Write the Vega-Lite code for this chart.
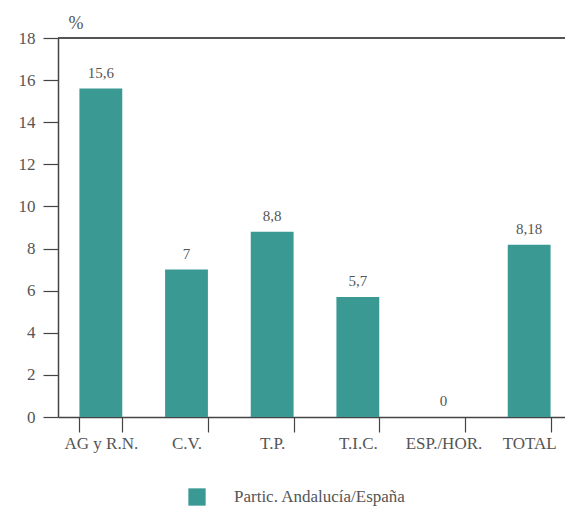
{
  "$schema": "https://vega.github.io/schema/vega-lite/v6.json",
  "width": 514,
  "height": 379,
  "autosize": {"type": "none"},
  "padding": {"left": 58, "top": 38, "right": 0, "bottom": 95},
  "background": "white",
  "config": {"view": {"stroke": null}, "font": "Liberation Serif"},
  "data": {"values": [
    {"cat": "AG y R.N.", "valor": 15.6, "etiqueta": "15,6", "serie": "Partic. Andalucía/España"},
    {"cat": "C.V.", "valor": 7, "etiqueta": "7", "serie": "Partic. Andalucía/España"},
    {"cat": "T.P.", "valor": 8.8, "etiqueta": "8,8", "serie": "Partic. Andalucía/España"},
    {"cat": "T.I.C.", "valor": 5.7, "etiqueta": "5,7", "serie": "Partic. Andalucía/España"},
    {"cat": "ESP./HOR.", "valor": 0, "etiqueta": "0", "serie": "Partic. Andalucía/España"},
    {"cat": "TOTAL", "valor": 8.18, "etiqueta": "8,18", "serie": "Partic. Andalucía/España"}
  ]},
  "layer": [
    {
      "mark": {"type": "bar"},
      "encoding": {
        "x": {
          "field": "cat", "type": "nominal", "sort": null,
          "scale": {"paddingInner": 0.5, "paddingOuter": 0.25},
          "axis": {
            "title": null, "labelAngle": 0, "tickBand": "extent", "tickSize": 15,
            "domainColor": "#444", "tickColor": "#444", "domainWidth": 1.5, "tickWidth": 1.2,
            "labelColor": "#555", "labelFontSize": 17, "labelPadding": 3, "labelFont": "Liberation Serif"
          }
        },
        "y": {
          "field": "valor", "type": "quantitative",
          "scale": {"domain": [0, 18], "nice": false},
          "axis": {
            "orient": "left",
            "title": "%", "titleAngle": 0, "titleX": 10, "titleY": -6, "titleAlign": "left",
            "titleBaseline": "bottom", "titleFontWeight": "normal", "titleFontSize": 18,
            "titleColor": "#555", "titleFont": "Liberation Serif",
            "values": [0,0.5,1,1.5,2,2.5,3,3.5,4,4.5,5,5.5,6,6.5,7,7.5,8,8.5,9,9.5,10,10.5,11,11.5,12,12.5,13,13.5,14,14.5,15,15.5,16,16.5,17,17.5,18],
            "tickSize": 15,
            "tickDash": {"condition": {"test": "datum.value % 2 !== 0", "value": [6, 40]}, "value": []},
            "labelExpr": "datum.value % 2 === 0 ? datum.label : ''",
            "labelOverlap": false,
            "labelFontSize": 17, "labelPadding": 8, "labelColor": "#555", "labelFont": "Liberation Serif",
            "grid": false, "domainColor": "#444", "tickColor": "#444", "domainWidth": 1.5, "tickWidth": 1.2
          }
        },
        "color": {
          "field": "serie", "type": "nominal",
          "scale": {"range": ["#3a9993"]},
          "legend": {
            "orient": "none", "legendX": 130, "legendY": 450, "title": null,
            "symbolType": "square", "symbolSize": 300, "symbolStrokeWidth": 0, "labelLimit": 400,
            "labelFontSize": 17, "labelOffset": 28, "labelColor": "#555", "labelFont": "Liberation Serif"
          }
        }
      }
    },
    {
      "mark": {"type": "text", "baseline": "bottom", "dy": -8, "fontSize": 15, "color": "#555", "font": "Liberation Serif"},
      "encoding": {
        "x": {"field": "cat", "type": "nominal", "sort": null},
        "y": {"field": "valor", "type": "quantitative"},
        "text": {"field": "etiqueta"}
      }
    },
    {
      "mark": {"type": "rule", "color": "#555", "strokeWidth": 1.5},
      "encoding": {"y": {"datum": 18}}
    }
  ]
}
